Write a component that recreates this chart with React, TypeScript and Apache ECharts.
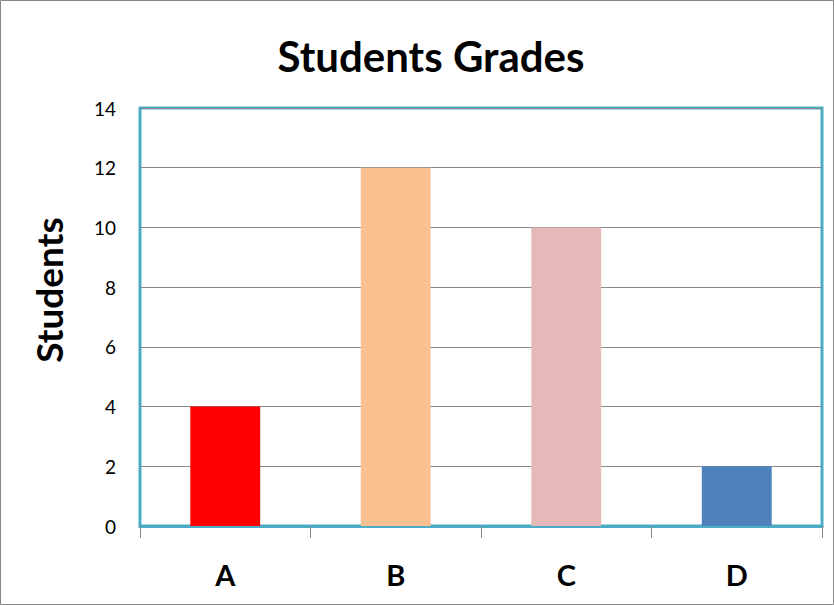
import { useEffect, useRef } from 'react';
import * as echarts from 'echarts';

const grades = ['A', 'B', 'C', 'D'];
const students = [4, 12, 10, 2];
const barColors = ['#ff0000', '#fac090', '#e6b9b8', '#4f81bd'];

export default function App() {
  const ref = useRef<HTMLDivElement>(null);

  useEffect(() => {
    if (!ref.current) return;
    const chart = echarts.init(ref.current, undefined, { renderer: 'svg' });
    chart.setOption({
      animation: false,
      backgroundColor: '#fff',
      textStyle: { fontFamily: 'Lato' },
      title: {
        text: 'Students Grades',
        left: 426,
        textAlign: 'center',
        top: 30,
        textStyle: { fontFamily: 'Lato', fontWeight: 'bold', fontSize: 42, color: '#000' },
      },
      graphic: [
        {
          type: 'rect',
          shape: { x: 0.5, y: 0.5, width: 833, height: 604 },
          style: { fill: 'none', stroke: '#888', lineWidth: 1 },
          silent: true,
        },
        {
          type: 'text',
          x: 48,
          y: 290,
          rotation: Math.PI / 2,
          style: {
            text: 'Students',
            fontFamily: 'Lato',
            fontSize: 37,
            fontWeight: 'bold',
            fill: '#000',
            align: 'center',
            verticalAlign: 'middle',
          },
        },
      ],
      grid: {
        left: 140, top: 108, width: 682, height: 418,
        show: true, borderColor: '#4bacc6', borderWidth: 3, backgroundColor: 'transparent',
      },
      xAxis: {
        type: 'category',
        data: grades,
        axisLine: { show: true, lineStyle: { color: '#4bacc6', width: 3 } },
        axisTick: { show: true, length: 12, lineStyle: { color: '#888' } },
        axisLabel: { color: '#000', fontSize: 29, fontWeight: 'bold', margin: 34 },
      },
      yAxis: {
        type: 'value',
        min: 0, max: 14, interval: 2,
        axisLine: { show: false },
        axisTick: { show: false },
        axisLabel: { color: '#000', fontSize: 19, margin: 24 },
        splitLine: { lineStyle: { color: '#888', width: 1 } },
      },
      series: [{
        type: 'bar',
        barWidth: '41%',
        data: students.map((v, i) => ({ value: v, itemStyle: { color: barColors[i] } })),
      }],
    });
    return () => chart.dispose();
  }, []);

  return <div ref={ref} style={{ position: 'absolute', left: 0, top: 0, width: 834, height: 605 }} />;
}
